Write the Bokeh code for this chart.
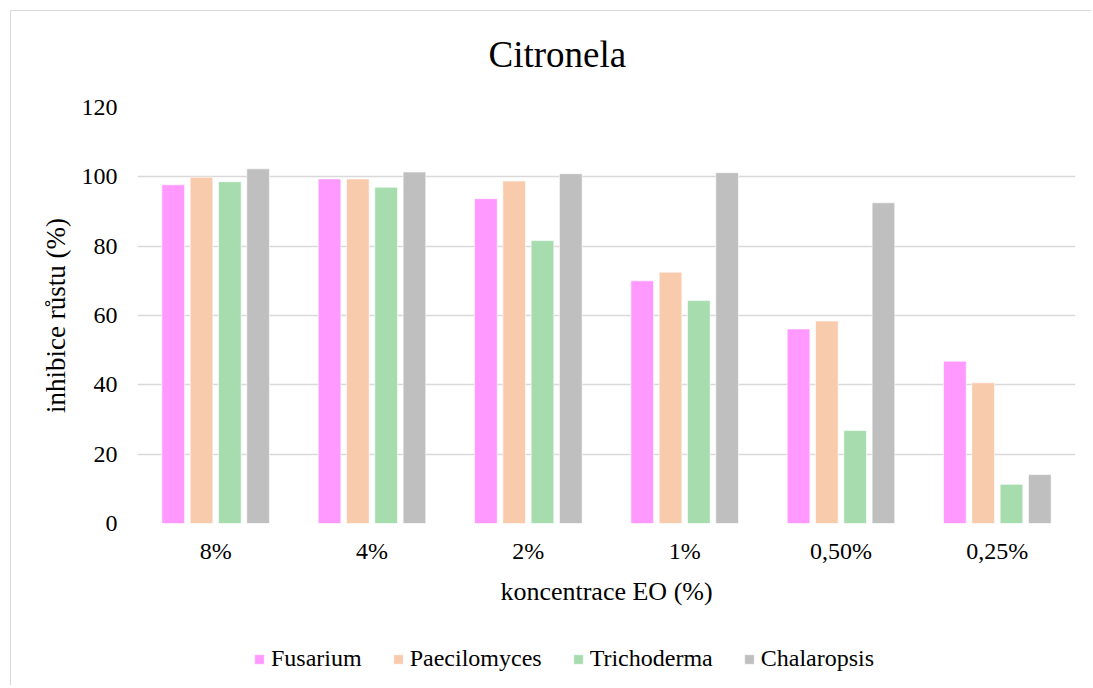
from bokeh.plotting import figure
from bokeh.layouts import column
from bokeh.models import ColumnDataSource, FactorRange, Legend, LegendItem, FixedTicker, Range1d
from bokeh.transform import dodge
from bokeh.embed import file_html
from bokeh.resources import INLINE

categories = ["8%", "4%", "2%", "1%", "0,50%", "0,25%"]
series_names = ["Fusarium", "Paecilomyces", "Trichoderma", "Chalaropsis"]
fusarium = [97.7, 99.4, 93.7, 70.0, 56.1, 46.8]
paecilomyces = [99.9, 99.4, 98.8, 72.5, 58.4, 40.6]
trichoderma = [98.6, 97.0, 81.6, 64.3, 26.8, 11.3]
chalaropsis = [102.3, 101.4, 100.9, 101.2, 92.5, 14.1]
y_ticks = [0, 20, 40, 60, 80, 100, 120]
title_text = "Citronela"

colors = ["#FF99FF", "#F8CBAD", "#A6DCAE", "#BFBFBF"]
FONT = "Liberation Serif"

src = ColumnDataSource(dict(cat=categories, Fusarium=fusarium, Paecilomyces=paecilomyces,
                            Trichoderma=trichoderma, Chalaropsis=chalaropsis))


def strip(height, x_range, top=0):
    f = figure(width=1080, height=height, output_backend="svg", toolbar_location=None,
               x_range=x_range, y_range=Range1d(1000, 1001), x_axis_type=None, y_axis_type=None,
               min_border_left=0, min_border_right=0, min_border_top=top, min_border_bottom=0)
    f.outline_line_color = None
    f.xgrid.grid_line_color = None
    f.ygrid.grid_line_color = None
    return f


x_range = FactorRange(*categories, range_padding=0)

# title strip
tf = strip(75, x_range, top=73)
tf.title.text = title_text
tf.title.text_font = FONT
tf.title.text_font_size = "37px"
tf.title.text_font_style = "normal"
tf.title.text_color = "#000000"
tf.title.align = "left"
tf.title.offset = 351
tf.title.standoff = 20

# main chart
p = figure(x_range=x_range, y_range=Range1d(0, 120),
           width=1080, height=537, output_backend="svg", toolbar_location=None,
           min_border_left=126, min_border_right=16, min_border_top=21, min_border_bottom=100)

pitch = 0.181
bw = 0.145
for i, (name, col) in enumerate(zip(series_names, colors)):
    p.vbar(x=dodge("cat", (i - 1.5) * pitch, range=p.x_range), top=name, width=bw,
           source=src, fill_color=col, line_color="white", line_alpha=0.6, line_width=1)

p.yaxis.ticker = FixedTicker(ticks=y_ticks)
for ax in (p.xaxis[0], p.yaxis[0]):
    ax.axis_line_color = None
    ax.major_tick_line_color = None
    ax.minor_tick_line_color = None
    ax.major_tick_in = 0
    ax.major_tick_out = 0
    ax.minor_tick_in = 0
    ax.minor_tick_out = 0
    ax.major_label_text_font = FONT
    ax.major_label_text_font_size = "24px"
    ax.major_label_text_color = "#000000"
    ax.axis_label_text_font = FONT
    ax.axis_label_text_font_style = "normal"
    ax.axis_label_text_color = "#000000"

p.xaxis.axis_label = "koncentrace EO (%)"
p.yaxis.axis_label = "inhibice růstu (%)"
p.xaxis.axis_label_text_font_size = "26px"
p.yaxis.axis_label_text_font_size = "27px"
p.xaxis.major_label_standoff = 14
p.xaxis.axis_label_standoff = 10
p.yaxis.major_label_standoff = 20
p.yaxis.axis_label_standoff = 8

p.xgrid.grid_line_color = None
p.ygrid.grid_line_color = "#d9d9d9"
p.ygrid.grid_line_width = 1.5
p.outline_line_color = None

# legend strip below the chart (bars drawn outside its visible y-range)
lf = strip(62, x_range)
items = []
for i, (name, col) in enumerate(zip(series_names, colors)):
    r = lf.vbar(x=dodge("cat", (i - 1.5) * pitch, range=lf.x_range), top=name, width=bw,
                source=src, fill_color=col, line_color="white", line_alpha=0.6)
    items.append(LegendItem(label=name, renderers=[r]))

legend = Legend(items=items, orientation="horizontal", location=(116, 13),
                glyph_width=12, glyph_height=12, label_standoff=6, spacing=30,
                padding=0, margin=0, border_line_color=None, background_fill_alpha=0,
                label_text_font=FONT, label_text_font_size="24px", label_text_color="#000000")
lf.add_layout(legend, "center")

layout = column(tf, p, lf, spacing=0,
                styles={"border-left": "1px solid #d9d9d9", "border-top": "1px solid #d9d9d9",
                        "margin-left": "10px", "margin-top": "10px"})

open("out.html", "w").write(file_html(layout, INLINE))
